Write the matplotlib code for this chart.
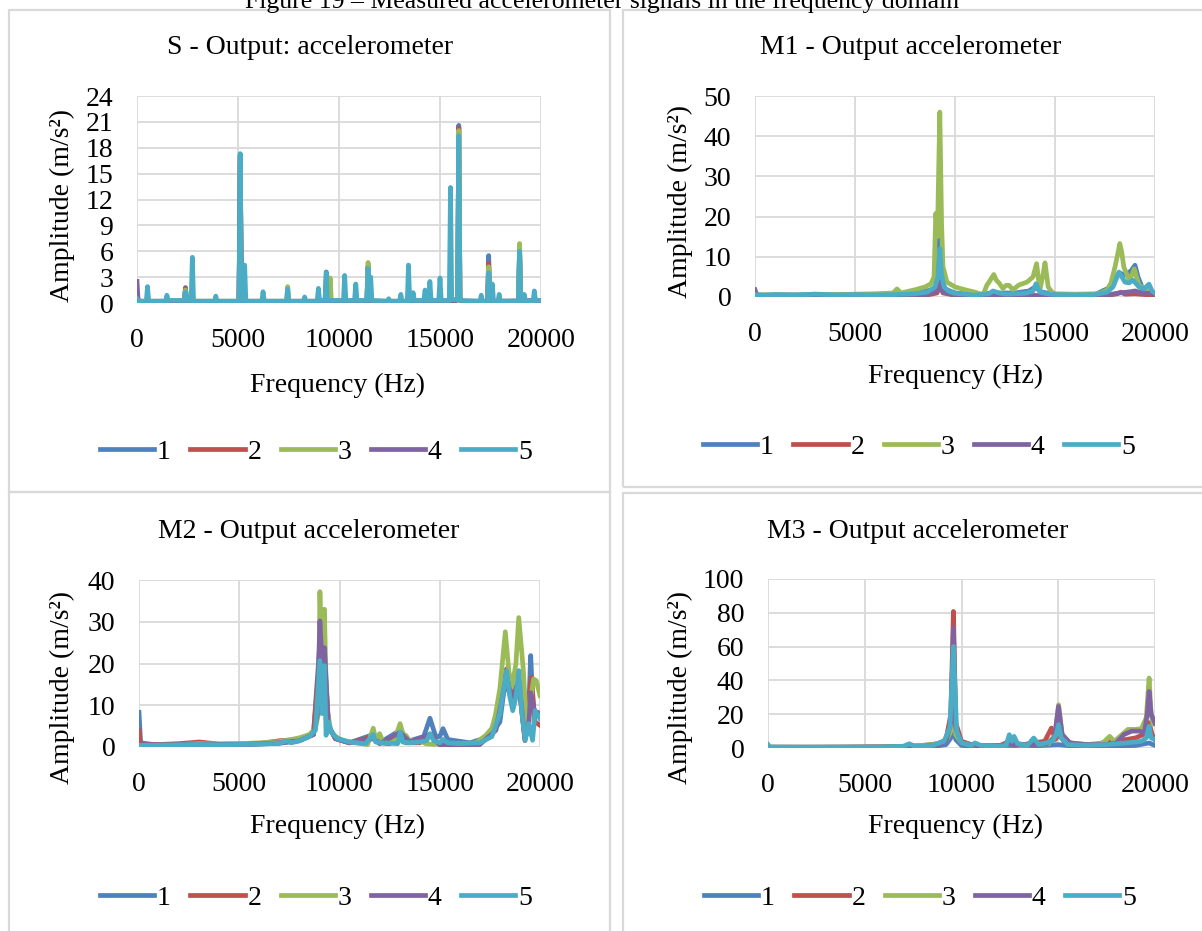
import matplotlib
matplotlib.use("Agg")
import matplotlib.pyplot as plt
from matplotlib.patches import Rectangle

plt.rcParams['font.family'] = ['Liberation Serif', 'DejaVu Serif']

# ---- data (Hz, m/s^2) ----
series_names = ["1", "2", "3", "4", "5"]
colors = ["#4F81BD", "#C0504D", "#9BBB59", "#8064A2", "#4BACC6"]

# S - Output: accelerometer
s_f1 = [0, 60, 2340, 2400, 2460, 5050, 5110, 5170, 9310, 9370, 9430, 11380, 11440, 11500,
        15870, 15930, 15990, 17350, 17410, 17470, 18880, 18940, 19000, 20000]
s_a1 = [1.2, 0.2, 0.2, 1.8, 0.2, 0.2, 17.2, 0.2, 0.2, 3.6, 0.2, 0.2, 4.3, 0.2,
        0.2, 20.6, 0.2, 0.2, 5.5, 0.2, 0.2, 6.2, 0.2, 0.2]
s_f2 = [0, 60, 2340, 2400, 2460, 5050, 5110, 5170, 9500, 9560, 9620, 11380, 11440, 11500,
        15870, 15930, 15990, 17350, 17410, 17470, 18880, 18940, 19000, 20000]
s_a2 = [1.0, 0.2, 0.2, 1.7, 0.2, 0.2, 17.0, 0.2, 0.2, 0.9, 0.2, 0.2, 4.2, 0.2,
        0.2, 20.3, 0.2, 0.2, 4.6, 0.2, 0.2, 6.3, 0.2, 0.2]
s_f3 = [0, 60, 2340, 2400, 2460, 5050, 5110, 5170, 7400, 7460, 7520, 9500, 9560, 9620,
        11380, 11440, 11500, 15870, 15930, 15990, 17350, 17410, 17470, 18880, 18940, 19000, 20000]
s_a3 = [0.8, 0.2, 0.2, 1.5, 0.2, 0.2, 17.3, 0.2, 0.2, 1.9, 0.2, 0.2, 2.9, 0.2,
        0.2, 4.7, 0.2, 0.2, 20.0, 0.2, 0.2, 4.2, 0.2, 0.2, 6.9, 0.2, 0.2]
s_f4 = [0, 60, 5050, 5110, 5170, 15700, 15930, 16150, 19900, 20000]
s_a4 = [2.5, 0.1, 0.1, 16.0, 0.1, 0.1, 0.7, 0.1, 0.3, 0.1]
s_f5 = [0, 60, 460, 520, 580, 1420, 1480, 1540, 2340, 2400, 2460, 2680, 2740, 2800,
        3840, 3900, 3960, 5050, 5110, 5170, 5270, 5330, 5390, 6180, 6240, 6300,
        7400, 7460, 7520, 8240, 8300, 8360, 8920, 8980, 9040, 9310, 9370, 9430,
        10220, 10280, 10340, 10770, 10830, 10890, 11380, 11440, 11500, 11570, 11630,
        12400, 12460, 12520, 13000, 13060, 13120, 13380, 13440, 13500, 13610, 13670, 13730,
        14200, 14260, 14320, 14440, 14500, 14560, 14940, 15000, 15060, 15460, 15520, 15580,
        15870, 15930, 15990, 16980, 17040, 17100, 17350, 17410, 17470, 17530, 17590, 17650,
        17870, 17930, 17990, 18880, 18940, 19000, 19110, 19170, 19230, 19610, 19670, 19730, 20000]
s_a5 = [0.5, 0.2, 0.2, 1.9, 0.2, 0.2, 0.9, 0.3, 0.3, 1.3, 0.3, 0.3, 5.3, 0.2,
        0.2, 0.8, 0.2, 0.2, 17.3, 0.3, 0.3, 4.4, 0.2, 0.2, 1.3, 0.2,
        0.2, 1.6, 0.2, 0.2, 0.7, 0.2, 0.2, 1.7, 0.3, 0.3, 3.5, 0.3,
        0.3, 3.2, 0.3, 0.3, 2.2, 0.3, 0.3, 4.0, 0.3, 3.0, 0.3,
        0.2, 0.5, 0.2, 0.2, 1.0, 0.2, 0.2, 4.4, 0.3, 0.3, 1.2, 0.3,
        0.3, 1.5, 0.3, 0.3, 2.5, 0.3, 0.3, 2.9, 0.3, 0.3, 13.4, 0.4,
        0.4, 19.4, 0.3, 0.2, 0.9, 0.2, 0.2, 3.5, 0.3, 0.3, 2.2, 0.2,
        0.2, 1.0, 0.2, 0.2, 6.0, 0.2, 0.2, 1.0, 0.2, 0.2, 1.4, 0.3, 0.3]

# M1 - Output accelerometer
m1_f1 = [0, 2000, 5000, 8000, 9000, 9150, 9240, 9330, 9500, 10000, 11000, 12000, 13000,
         13700, 14000, 14300, 15000, 17000, 17800, 18200, 18500, 18800, 19000, 19150, 19400, 20000]
m1_a1 = [0.5, 0.5, 0.6, 0.8, 2.0, 5.0, 16.6, 5.0, 2.0, 1.0, 0.6, 1.0, 1.0,
         1.5, 2.5, 1.3, 0.6, 0.6, 2.5, 6.0, 5.5, 6.5, 7.9, 5.0, 1.8, 0.8]
m1_f2 = [0, 3000, 6000, 8500, 9100, 9240, 9400, 10000, 12000, 15000, 17500, 18100, 18300,
         18500, 19000, 20000]
m1_a2 = [0.3, 0.2, 0.3, 0.4, 1.0, 3.0, 1.0, 0.5, 0.4, 0.3, 0.3, 0.8, 1.2, 0.7, 0.8, 0.4]
m1_f3 = [0, 1000, 2000, 3000, 4000, 5000, 6000, 6900, 7100, 7300, 8000, 8500, 8800, 8950,
         9040, 9120, 9240, 9330, 9400, 9600, 10000, 10500, 11000, 11400, 11600, 11700, 11940,
         12060, 12200, 12400, 12550, 12700, 12900, 13200, 13600, 13900, 14080, 14240, 14380,
         14500, 14660, 14850, 15000, 16000, 17000, 17300, 17600, 17800, 18000, 18150, 18240,
         18340, 18440, 18700, 18850, 18960, 19050, 19200, 19600, 20000]
m1_a3 = [0.5, 0.6, 0.5, 0.7, 0.6, 0.7, 0.8, 1.0, 2.0, 1.0, 1.8, 2.5, 3.3, 5.0,
         20.8, 15.0, 46.0, 18.0, 7.5, 3.7, 2.5, 1.8, 1.2, 0.5, 3.0, 3.7, 5.6,
         4.2, 3.5, 2.1, 2.9, 2.9, 1.8, 3.0, 3.7, 5.0, 8.3, 1.7, 5.0,
         8.5, 2.5, 1.2, 0.8, 0.7, 0.8, 1.0, 1.7, 3.5, 7.5, 11.0, 13.3,
         11.0, 7.5, 4.2, 5.5, 7.0, 5.5, 2.9, 1.7, 0.8]
m1_f4 = [0, 100, 3000, 6000, 8500, 9100, 9240, 9400, 10000, 12000, 15000, 17500, 18200,
         18600, 19000, 19400, 20000]
m1_a4 = [1.8, 0.3, 0.2, 0.3, 0.5, 1.5, 4.0, 1.2, 0.4, 0.4, 0.3, 0.4, 1.0, 1.2, 1.5, 1.0, 0.8]
m1_f5 = [0, 500, 1000, 2000, 3000, 4000, 5000, 6000, 7000, 8000, 8600, 9000, 9150, 9240,
         9330, 9450, 9700, 10000, 11000, 11700, 11900, 12200, 12600, 13000, 13500, 13900,
         14050, 14250, 14600, 15000, 16000, 17000, 17600, 17900, 18200, 18500, 18700, 18900,
         19200, 19450, 19700, 19850, 20000]
m1_a5 = [0.6, 0.4, 0.6, 0.5, 0.7, 0.5, 0.6, 0.5, 0.6, 0.8, 1.2, 2.5, 5.0, 12.0,
         5.5, 2.5, 1.4, 0.9, 0.5, 0.8, 1.5, 1.0, 0.7, 0.8, 0.9, 1.5,
         3.3, 1.2, 0.8, 0.6, 0.5, 0.6, 1.2, 2.5, 6.2, 3.7, 3.5, 4.2,
         2.5, 2.0, 3.2, 1.5, 1.0]

# M2 - Output accelerometer
m2_f1 = [0, 80, 1000, 3000, 5000, 7000, 8000, 8700, 9023, 9247, 9450, 9800, 10500, 11684,
         12000, 13023, 13500, 14200, 14512, 14800, 15000, 15163, 15400, 16500, 17500, 18000,
         18270, 18600, 18940, 19250, 19400, 19535, 19650, 19720, 19900, 20000]
m2_a1 = [8.3, 1.0, 0.4, 0.5, 0.5, 0.9, 1.5, 3.0, 25.0, 22.0, 5.0, 2.0, 1.0, 3.0,
         1.0, 4.0, 1.5, 2.5, 6.9, 2.5, 2.5, 4.4, 1.8, 1.0, 2.5, 6.0,
         16.0, 11.0, 15.0, 2.0, 4.0, 21.9, 10.0, 7.5, 8.3, 7.0]
m2_f2 = [0, 80, 1000, 2000, 3000, 4000, 6000, 7000, 8000, 8700, 9023, 9247, 9450, 9800,
         10500, 11684, 12000, 12500, 13023, 13300, 14000, 14512, 15000, 16000, 17000, 17800,
         18330, 18600, 18940, 19250, 19570, 19750, 20000]
m2_a2 = [4.0, 0.5, 0.6, 0.8, 1.2, 0.7, 0.8, 1.5, 1.8, 3.0, 22.0, 20.0, 5.0, 2.0,
         1.0, 2.5, 1.0, 0.8, 3.0, 1.0, 1.0, 3.0, 0.6, 0.4, 0.8, 5.0,
         18.7, 12.0, 16.0, 1.5, 16.7, 6.0, 5.2]
m2_f3 = [0, 1000, 2000, 3000, 4000, 5000, 6000, 7000, 7500, 8000, 8500, 8800, 8950, 9023,
         9130, 9247, 9330, 9414, 9550, 9800, 10200, 10800, 11400, 11684, 11800, 12000, 12150,
         12700, 13023, 13200, 13302, 13500, 13950, 14300, 14700, 15163, 15600, 16200, 16800,
         17300, 17600, 17770, 18000, 18270, 18450, 18605, 18800, 18940, 19163, 19349, 19535,
         19684, 19814, 20000]
m2_a3 = [0.3, 0.5, 0.6, 0.8, 0.7, 0.8, 1.0, 1.3, 1.7, 2.2, 3.0, 4.5, 8.0, 37.2,
         17.0, 33.0, 15.0, 8.3, 4.0, 2.5, 1.5, 1.0, 0.6, 4.5, 1.8, 3.2, 1.5,
         1.2, 5.6, 2.5, 2.8, 1.5, 1.6, 0.8, 0.6, 1.0, 0.8, 0.8, 1.0,
         2.8, 4.5, 7.5, 14.0, 27.6, 18.0, 14.3, 20.0, 31.0, 18.7, 3.6, 11.5,
         16.3, 15.9, 12.3]
m2_f4 = [0, 2000, 5000, 7000, 8000, 8700, 8900, 9023, 9150, 9247, 9450, 9800, 10500, 11684,
         12000, 13023, 13500, 14512, 15000, 16000, 17000, 17800, 18330, 18600, 18940, 19250,
         19450, 19535, 19700, 19900, 20000]
m2_a4 = [0.5, 0.6, 0.6, 1.0, 1.5, 3.0, 8.0, 30.2, 18.0, 23.8, 5.0, 2.0, 1.0, 2.0,
         0.8, 3.5, 1.2, 3.0, 0.5, 0.3, 0.6, 4.0, 17.0, 11.0, 16.0, 2.0,
         6.0, 13.0, 9.0, 7.9, 7.5]
m2_f5 = [0, 1000, 2000, 3000, 4000, 5000, 6000, 7000, 7400, 7600, 8000, 8500, 8800, 9023,
         9130, 9247, 9330, 9450, 9600, 9900, 10500, 11300, 11684, 11800, 12200, 12900, 13023,
         13150, 13500, 14000, 14350, 14512, 14700, 15000, 15163, 15400, 16000, 17000, 17600,
         18000, 18330, 18500, 18640, 18800, 18940, 19100, 19260, 19440, 19630, 19760, 20000]
m2_a5 = [0.4, 0.4, 0.5, 0.6, 0.5, 0.6, 0.7, 0.9, 1.5, 1.0, 1.5, 2.5, 4.0, 20.7,
         8.0, 19.5, 2.8, 6.0, 3.5, 2.0, 1.2, 0.8, 3.0, 1.2, 1.0, 0.8, 3.6,
         1.2, 1.0, 1.2, 1.5, 3.2, 1.5, 1.0, 1.8, 1.0, 0.8, 1.0, 2.5,
         8.0, 18.3, 12.0, 8.7, 12.0, 18.3, 8.0, 1.6, 5.6, 1.6, 8.7, 6.8]

# M3 - Output accelerometer
m3_f1 = [0, 3000, 6000, 8500, 9200, 9450, 9583, 9700, 10000, 11000, 12472, 13733, 15015,
         16000, 17500, 19000, 19695, 19900, 20000]
m3_a1 = [0.5, 0.3, 0.3, 0.8, 2.0, 6.0, 20.0, 5.0, 1.5, 0.8, 1.5, 1.2, 2.0,
         0.8, 1.0, 1.5, 3.0, 2.0, 1.5]
m3_f2 = [0, 2000, 4000, 6000, 7000, 8000, 8800, 9200, 9450, 9583, 9700, 10000, 10500, 11000,
         12000, 12472, 12716, 13200, 13733, 14300, 14649, 14850, 15015, 15300, 16000, 17000,
         17558, 18000, 18500, 19000, 19400, 19695, 19850, 20000]
m3_a2 = [0.5, 0.5, 0.6, 0.8, 1.0, 1.5, 2.5, 5.0, 20.0, 80.8, 15.0, 4.0, 2.0, 1.5,
         1.5, 4.0, 3.0, 2.0, 3.0, 4.0, 11.8, 5.0, 8.0, 4.0, 2.0, 2.0,
         4.0, 4.0, 5.0, 6.0, 8.0, 15.0, 8.0, 5.0]
m3_f3 = [0, 3000, 6000, 7500, 8500, 9200, 9450, 9583, 9700, 10000, 11000, 12000, 12472,
         13000, 13733, 14500, 14850, 15015, 15200, 15600, 16500, 17300, 17660, 17900, 18300,
         18600, 19000, 19300, 19550, 19695, 19800, 19900, 20000]
m3_a3 = [0.5, 0.5, 0.6, 1.2, 2.0, 4.0, 10.0, 35.0, 8.0, 3.0, 1.2, 1.0, 3.0,
         1.5, 2.0, 2.5, 8.0, 25.6, 8.0, 3.0, 2.0, 3.0, 6.9, 4.0, 8.0,
         11.0, 11.0, 11.5, 18.0, 41.4, 20.0, 14.0, 14.5]
m3_f4 = [0, 3000, 6000, 8000, 8800, 9200, 9450, 9583, 9700, 10000, 11000, 12000, 12472,
         12716, 13733, 14400, 14800, 15015, 15200, 15600, 16500, 17500, 18000, 18400, 18800,
         19200, 19450, 19600, 19695, 19800, 20000]
m3_a4 = [0.3, 0.4, 0.5, 1.0, 2.0, 4.0, 15.0, 71.0, 12.0, 3.0, 1.0, 1.0, 3.0,
         2.0, 2.0, 2.5, 6.0, 24.6, 8.0, 3.0, 2.0, 2.0, 3.0, 8.0, 10.0,
         10.0, 9.0, 20.0, 33.5, 20.0, 14.8]
m3_f5 = [0, 100, 2000, 4000, 6000, 7000, 7300, 7600, 8500, 9100, 9400, 9583, 9750, 10000,
         10500, 10700, 11000, 12000, 12300, 12472, 12600, 12716, 12900, 13400, 13733, 14000,
         14700, 14900, 15015, 15150, 15500, 16500, 17500, 18500, 19300, 19550, 19695, 19800, 20000]
m3_a5 = [2.0, 0.5, 0.5, 0.5, 0.6, 1.0, 2.5, 1.0, 1.5, 4.0, 12.0, 60.0, 10.0, 3.0,
         1.5, 3.0, 1.5, 1.0, 1.5, 7.9, 4.0, 6.9, 2.5, 1.5, 5.9, 2.0,
         4.0, 8.0, 13.8, 6.0, 2.0, 1.5, 2.0, 3.0, 4.0, 6.0, 12.8, 6.0, 4.9]

x_ticks = [0, 5000, 10000, 15000, 20000]

W, H = 1202, 931
fig = plt.figure(figsize=(W / 100, H / 100), dpi=100)


def fx(x):
    return x / W


def fy(y):
    return 1 - y / H


def box(l, t, r, b):
    return [l / W, 1 - b / H, (r - l) / W, (b - t) / H]


# panel frames
for l, t, r, b in [(9, 10, 610, 492), (623, 10, 1210, 487),
                   (9, 492, 610, 940), (623, 493, 1210, 940)]:
    fig.add_artist(Rectangle((fx(l), fy(b)), (r - l) / W, (b - t) / H,
                             transform=fig.transFigure, fill=False,
                             edgecolor="#d9d9d9", linewidth=1.6))

# caption sits partly above the top edge, as in the source page
fig.text(fx(602), fy(8), "Figure 19 \u2013 Measured accelerometer signals in the frequency domain",
         ha="center", va="baseline", fontsize=18.5)

panels = [
    dict(title="S - Output: accelerometer", rect=(137, 96, 541, 303), yticks=range(0, 25, 3),
         data=[(s_f1, s_a1), (s_f2, s_a2), (s_f3, s_a3), (s_f4, s_a4), (s_f5, s_a5)],
         title_xy=(310, 47), ylab_xy=(62, 206), xlab_xy=(338, 385), leg_xy=(316, 452)),
    dict(title="M1 - Output accelerometer", rect=(755, 96, 1155, 297), yticks=range(0, 51, 10),
         data=[(m1_f1, m1_a1), (m1_f2, m1_a2), (m1_f3, m1_a3), (m1_f4, m1_a4), (m1_f5, m1_a5)],
         title_xy=(911, 47), ylab_xy=(680, 202), xlab_xy=(955, 376), leg_xy=(919, 447)),
    dict(title="M2 - Output accelerometer", rect=(139, 580, 540, 747), yticks=range(0, 41, 10),
         data=[(m2_f1, m2_a1), (m2_f2, m2_a2), (m2_f3, m2_a3), (m2_f4, m2_a4), (m2_f5, m2_a5)],
         title_xy=(309, 532), ylab_xy=(62, 687), xlab_xy=(338, 826), leg_xy=(316, 898)),
    dict(title="M3 - Output accelerometer", rect=(768, 579, 1155, 748), yticks=range(0, 101, 20),
         data=[(m3_f1, m3_a1), (m3_f2, m3_a2), (m3_f3, m3_a3), (m3_f4, m3_a4), (m3_f5, m3_a5)],
         title_xy=(918, 532), ylab_xy=(680, 687), xlab_xy=(955, 826), leg_xy=(920, 898)),
]

for p in panels:
    ax = fig.add_axes(box(*p["rect"]))
    lines = []
    for (f, a), c, name in zip(p["data"], colors, series_names):
        ln, = ax.plot(f, a, color=c, lw=3.4, label=name, solid_joinstyle="round")
        lines.append(ln)
    yt = list(p["yticks"])
    ax.set_xlim(0, 20000)
    ax.set_ylim(0, yt[-1])
    ax.set_xticks(x_ticks)
    ax.set_yticks(yt)
    ax.grid(True, color="#d9d9d9", lw=1.3)
    ax.set_axisbelow(True)
    for s in ax.spines.values():
        s.set_visible(False)
    ax.tick_params(length=0, labelsize=20)
    ax.tick_params(axis="x", pad=18)
    ax.tick_params(axis="y", pad=17)

    fig.text(fx(p["title_xy"][0]), fy(p["title_xy"][1]), p["title"],
             ha="center", va="center", fontsize=20)
    fig.text(fx(p["ylab_xy"][0]), fy(p["ylab_xy"][1]), "Amplitude (m/s\u00b2)",
             ha="center", va="center", rotation=90, fontsize=20)
    fig.text(fx(p["xlab_xy"][0]), fy(p["xlab_xy"][1]), "Frequency (Hz)",
             ha="center", va="center", fontsize=20)
    fig.legend(handles=lines, loc="center", ncol=5, frameon=False, fontsize=20,
               bbox_to_anchor=(fx(p["leg_xy"][0]), fy(p["leg_xy"][1])),
               handlelength=1.95, handletextpad=0.1, columnspacing=0.7)

fig.savefig("out.png", dpi=100)
